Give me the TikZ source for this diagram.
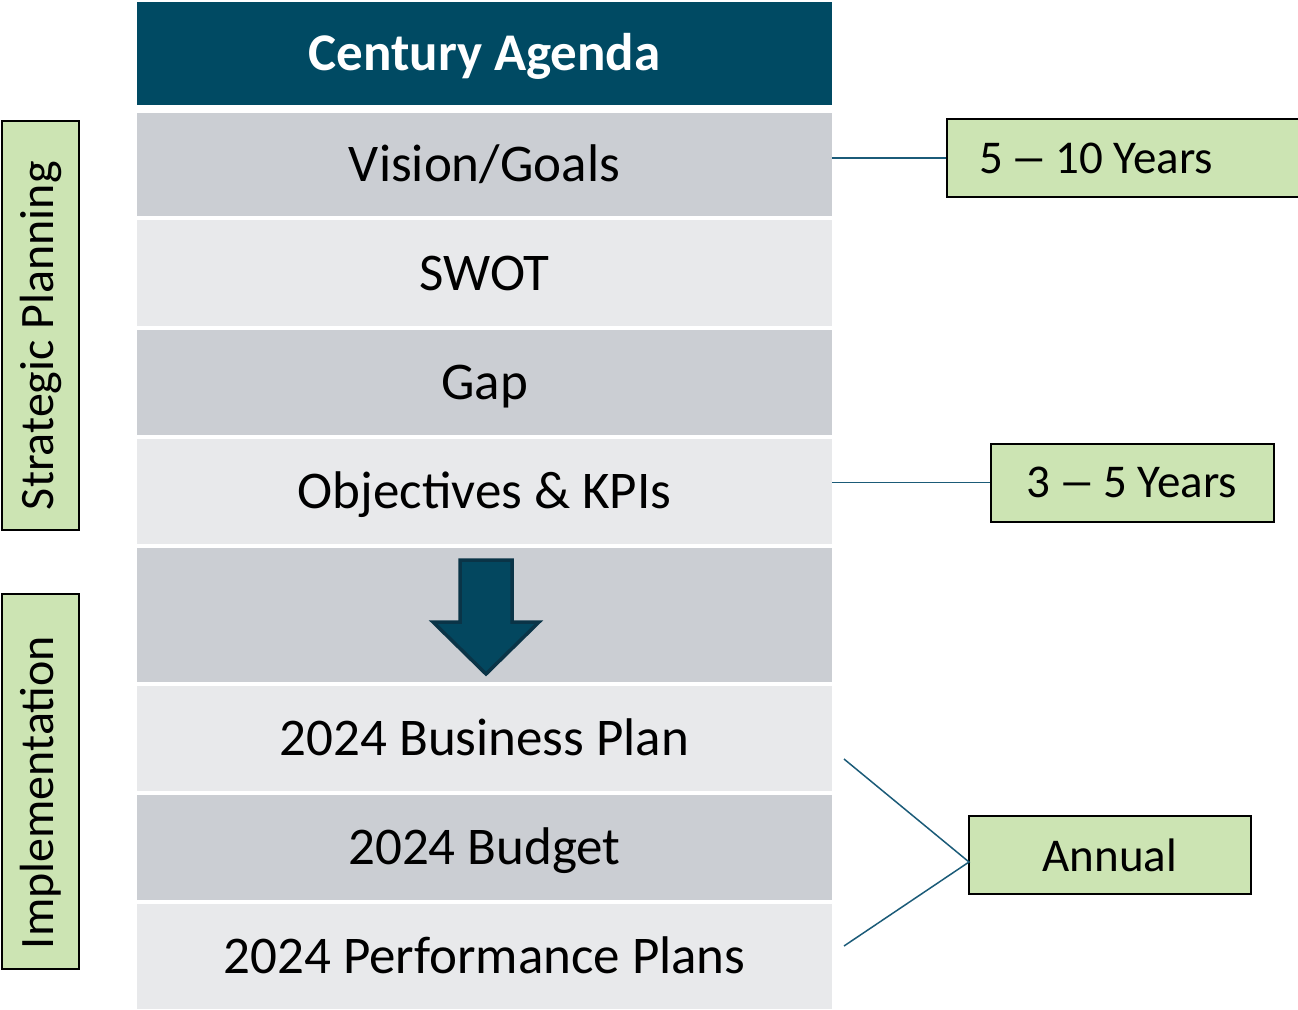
\documentclass[tikz,border=0pt]{standalone}
\usepackage{graphicx}
\usepackage{fontspec}
\setmainfont{Carlito}
\definecolor{hdr}{HTML}{004A63}
\definecolor{rowdark}{HTML}{CBCED3}
\definecolor{rowlight}{HTML}{E8E9EB}
\definecolor{lblgreen}{HTML}{CCE4B3}
\definecolor{conn}{HTML}{1B5B78}
\definecolor{arrfill}{HTML}{03475F}
\definecolor{arredge}{HTML}{0A3447}
\newcommand{\rowfnt}{\fontsize{53}{60}\selectfont}
\newcommand{\sidefnt}{\fontsize{48}{56}\selectfont}
\newcommand{\tagfnt}{\fontsize{47}{54}\selectfont}
\newcommand{\wdash}{\kern-3pt\scalebox{1.6}[1]{–}\kern-3pt}
\begin{document}
\begin{tikzpicture}[x=1pt,y=-1pt,
  rowbase/.style={draw=none, minimum width=695pt, inner sep=0pt, font=\rowfnt,
    text height=34pt, text depth=0pt},
  rowd/.style={rowbase, fill=rowdark},
  rowl/.style={rowbase, fill=rowlight},
  sidebox/.style={draw=black, line width=2pt, fill=lblgreen, rotate=90, font=\sidefnt,
    minimum height=77pt, inner xsep=20pt, inner ysep=0pt, align=flush left},
  tagbox/.style={draw=black, line width=2pt, fill=lblgreen, font=\tagfnt,
    minimum height=78pt, inner sep=0pt},
  connline/.style={draw=conn, line width=1.5pt}]
\useasboundingbox (0,0) rectangle (1298,1009);
\clip (0,0) rectangle (1298,1009);

% header and rows
\node[rowbase, fill=hdr, text=white, font=\rowfnt\bfseries, minimum height=103pt] (header) at (484.5,53.5) {Century Agenda};
\node[rowd, minimum height=103pt] (r1) at (484.5,164.5) {Vision/Goals};
\node[rowl, minimum height=106pt] (r2) at (484.5,273) {SWOT};
\node[rowd, minimum height=105pt] (r3) at (484.5,382.5) {Gap};
\node[rowl, minimum height=105pt] (r4) at (484.5,491.5) {Objectives \& KPIs};
\node[rowd, minimum height=134pt] (r5) at (484.5,615) {};
\node[rowl, minimum height=105pt] (r6) at (484.5,738.5) {2024 Business Plan};
\node[rowd, minimum height=105pt] (r7) at (484.5,847.5) {2024 Budget};
\node[rowl, minimum height=105pt] (r8) at (484.5,956.5) {2024 Performance Plans};

% down arrow
\draw[fill=arrfill, draw=arredge, line width=3.5pt, line join=miter]
  (460,560) -- (512,560) -- (512,622) -- (539,622) -- (486,674) -- (433,622) -- (460,622) -- cycle;

% side labels
\node[sidebox, text width=369pt] (sp) at (40.5,325.5) {Strategic Planning};
\node[sidebox, text width=335pt] (impl) at (40.5,781.5) {Implementation};

% right tags
\node[tagbox, anchor=west, text width=300pt, inner xsep=32pt, align=flush left] (y510) at (946,158) {5 \wdash{} 10 Years};
\node[tagbox, minimum width=283pt] (y35) at (1132,482.5) {3 \wdash{} 5 Years};
\node[tagbox, minimum width=282pt] (annual) at (1110,855) {Annual};

% connectors
\draw[connline] (y510.west) -- (y510.west -| r1.east);
\draw[connline] (y35.west) -- (y35.west -| r4.east);
\coordinate (apex) at (969,862);
\coordinate (a1) at (844,759);
\coordinate (a2) at (844,946);
\draw[connline] (a1) -- (apex) -- (a2);
\end{tikzpicture}
\end{document}
